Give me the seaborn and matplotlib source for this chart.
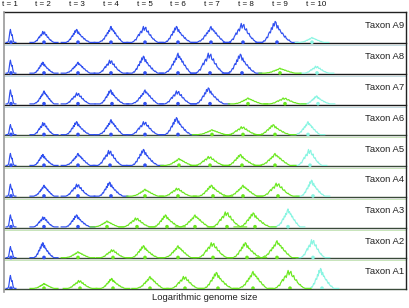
import numpy as np
import pandas as pd
import matplotlib
matplotlib.use("Agg")
import matplotlib.pyplot as plt
import seaborn as sns

# ---------------- data ----------------
t_labels = ["t = 1", "t = 2", "t = 3", "t = 4", "t = 5",
            "t = 6", "t = 7", "t = 8", "t = 9", "t = 10"]
t_label_x = [10, 43, 77, 111, 145, 178, 212, 246, 280, 316]
taxa = ["Taxon A9", "Taxon A8", "Taxon A7", "Taxon A6", "Taxon A5",
        "Taxon A4", "Taxon A3", "Taxon A2", "Taxon A1"]
# number of leading blue distributions per taxon (then green, last one cyan)
n_blue = [9, 8, 7, 6, 5, 4, 3, 2, 1]

# distribution centres (log genome size, picture units)
centres = [
    [11, 44, 78, 111, 145, 178, 211, 243, 277, 312],
    [11, 44, 78, 111, 145, 178, 210, 242, 280, 317],
    [11, 44, 78, 112, 145, 178, 210, 248, 285, 318],
    [11, 44, 78, 111, 145, 178, 212, 243, 275, 308],
    [11, 44, 78, 110, 145, 179, 210, 242, 275, 310],
    [11, 44, 78, 111, 145, 178, 213, 243, 278, 313],
    [11, 44, 78, 107, 137, 167, 195, 227, 255, 288],
    [11, 44, 78, 113, 145, 178, 213, 247, 277, 313],
    [11, 44, 80, 113, 150, 185, 218, 253, 290, 322],
]
# peak heights (frequency, picture units)
heights = [
    [13, 11, 13, 16, 16, 16, 16, 19, 21, 5],
    [13, 11, 11, 13, 17, 20, 20, 19, 5, 7],
    [14, 13, 11, 14, 14, 13, 16, 6, 6, 8],
    [10, 12, 13, 15, 13, 17, 5, 8, 10, 13],
    [12, 11, 12, 15, 16, 7, 9, 11, 12, 16],
    [12, 11, 12, 14, 7, 8, 11, 11, 13, 16],
    [12, 10, 12, 6, 9, 12, 12, 15, 14, 18],
    [11, 15, 6, 8, 12, 12, 15, 15, 17, 18],
    [13, 5, 8, 10, 12, 12, 16, 17, 18, 20],
]
# half widths per time step
half_widths = [3.5, 10, 12, 12, 13, 13, 14, 14, 15, 12]

# jagged histogram profiles (normalised)
profiles = [
    [0, 0.03, 0.06, 0.10, 0.08, 0.15, 0.22, 0.20, 0.35, 0.45, 0.40, 0.60, 0.55,
     0.75, 0.68, 0.90, 1.00, 0.78, 0.85, 0.70, 0.72, 0.55, 0.60, 0.45, 0.38,
     0.40, 0.28, 0.20, 0.22, 0.12, 0.08, 0.04, 0],
    [0, 0.04, 0.05, 0.12, 0.18, 0.15, 0.30, 0.38, 0.50, 0.42, 0.62, 0.70, 0.60,
     0.82, 1.00, 0.75, 0.88, 0.95, 0.70, 0.65, 0.72, 0.50, 0.45, 0.48, 0.32,
     0.28, 0.20, 0.22, 0.12, 0.10, 0.05, 0.03, 0],
    [0, 0.02, 0.08, 0.06, 0.15, 0.25, 0.22, 0.40, 0.50, 0.45, 0.70, 0.62, 0.90,
     0.78, 1.00, 0.95, 0.68, 0.80, 0.60, 0.62, 0.50, 0.42, 0.45, 0.35, 0.25,
     0.30, 0.18, 0.15, 0.10, 0.12, 0.05, 0.02, 0],
]
spike_profile = [0, 0.05, 0.15, 0.45, 0.80, 1.00, 0.75, 0.55, 0.60, 0.30, 0.10, 0.03, 0]

colors = {"blue": "#2f4ff0", "green": "#6ae81e", "cyan": "#8af5e2"}

# ---------------- figure ----------------
W, H = 409, 308
fig = plt.figure(figsize=(W / 100, H / 100), dpi=100)
ax = fig.add_axes([4 / W, 19 / H, 402 / W, 277 / H])

row_h = 30.75
bases = [246 - row_h * i for i in range(len(taxa))]

rows, dots = [], []
cid = 0
for r, taxon in enumerate(taxa):
    for k in range(len(t_labels)):
        grp = "blue" if k < n_blue[r] else ("cyan" if k == len(t_labels) - 1 else "green")
        prof = spike_profile if k == 0 else profiles[(r + k) % len(profiles)]
        prof = np.asarray(prof, dtype=float)
        u = np.linspace(-1, 1, len(prof))
        hw = half_widths[k]
        xs = np.concatenate([[-1.4], u, [1.4]]) * hw + centres[r][k] - 4
        ys = np.concatenate([[0], prof, [0]]) * heights[r][k] + bases[r] + 0.6
        for x, y in zip(xs, ys):
            rows.append({"x": x, "y": y, "cid": cid, "grp": grp})
        dots.append({"x": centres[r][k] - 4, "y": bases[r] + 0.8, "grp": grp})
        cid += 1

df = pd.DataFrame(rows)
dd = pd.DataFrame(dots)

# baselines
for i, b in enumerate(bases):
    ax.plot([0, 402], [b, b], color="#1a1a1a" if i < 3 else "#3a4a3a", lw=1.0,
            zorder=1, clip_on=False)
    if i < len(bases) - 1:
        ax.plot([0, 402], [b - 2, b - 2], color="#b8d4dc" if i < 3 else "#bfe0b0",
                lw=0.6, zorder=1, clip_on=False)

sns.lineplot(data=df, x="x", y="y", units="cid", estimator=None, hue="grp",
             palette=colors, legend=False, sort=False, linewidth=0.85, ax=ax, zorder=3)
sns.scatterplot(data=dd, x="x", y="y", hue="grp", palette=colors, s=7,
                linewidth=0, legend=False, ax=ax, zorder=4)
ax.set_xlim(0, 402)
ax.set_ylim(0, 277)
ax.axis("off")

# frame
ax.plot([0, 402], [277, 277], color="#222222", lw=1.0, clip_on=False, zorder=5)
ax.plot([402, 402], [0, 277], color="#222222", lw=1.0, clip_on=False, zorder=5)
ax.plot([0, 0], [-3, 277], color="#999999", lw=1.2, clip_on=False, zorder=5)

font = "Liberation Sans"
for lab, xp in zip(t_labels, t_label_x):
    ax.text(xp - 4, 284, lab, ha="center", va="center", fontsize=5.8,
            family=font, color="#111111", clip_on=False)
for lab, b in zip(taxa, bases):
    ax.text(400, b + 17, lab, ha="right", va="center", fontsize=6.8,
            family=font, color="#222222")
ax.text(201, -9, "Logarithmic genome size", ha="center", va="center",
        fontsize=6.8, family=font, color="#222222", clip_on=False)

fig.savefig("out.png", dpi=100)
